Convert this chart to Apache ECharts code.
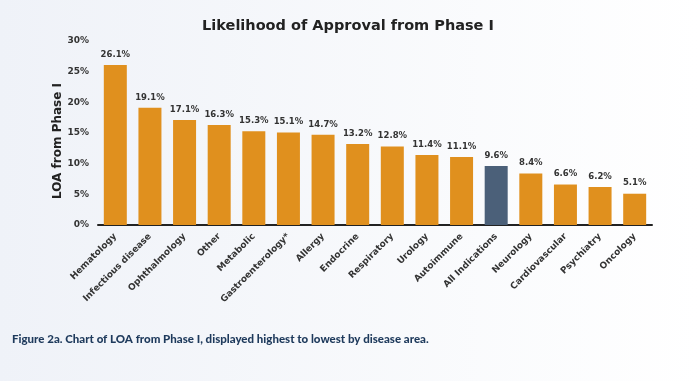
<!DOCTYPE html>
<html><head><meta charset="utf-8">
<script src="https://cdn.jsdelivr.net/npm/echarts@6/dist/echarts.min.js"></script>
<style>html,body{margin:0;padding:0;}#c{width:699px;height:381px;}</style>
</head><body><div id="c"></div>
<script>
const categories = ["Hematology","Infectious disease","Ophthalmology","Other","Metabolic","Gastroenterology*","Allergy","Endocrine","Respiratory","Urology","Autoimmune","All Indications","Neurology","Cardiovascular","Psychiatry","Oncology"];
const values = [26.1,19.1,17.1,16.3,15.3,15.1,14.7,13.2,12.8,11.4,11.1,9.6,8.4,6.6,6.2,5.1];
const highlight = "All Indications";
const yTicks = [0,5,10,15,20,25,30];

const chart = echarts.init(document.getElementById('c'));
chart.setOption({
  backgroundColor: {type:'linear',x:0,y:0,x2:1,y2:0,colorStops:[{offset:0,color:'#eff2f8'},{offset:1,color:'#ffffff'}]},
  title: {text:'Likelihood of Approval from Phase I', left:343, top:14, textAlign:'center',
    textStyle:{fontFamily:'DejaVu Sans', fontWeight:'bold', fontSize:14.5, color:'#222'}},
  graphic: [
    {type:'text', left:12, top:333, style:{text:'Figure 2a. Chart of LOA from Phase I, displayed highest to lowest by disease area.', font:'900 11.5px Lato', fill:'#1e3a5c'}},
    {type:'text', x:58, y:141, rotation:Math.PI/2, style:{text:'LOA from Phase I', font:'bold 12px "DejaVu Sans"', fill:'#222', textAlign:'center', textVerticalAlign:'middle'}}
  ],
  grid: {left:98, right:47, top:41, bottom:156},
  xAxis: {type:'category', data:categories,
    axisLine:{lineStyle:{color:'#222', width:2}}, axisTick:{show:false},
    axisLabel:{rotate:45, interval:0, fontFamily:'DejaVu Sans', fontWeight:'bold', fontSize:9, color:'#333', margin:10}},
  yAxis: {type:'value', min:0, max:30, interval:5,
    axisLine:{show:false}, axisTick:{show:false}, splitLine:{show:false},
    axisLabel:{formatter:v=>yTicks.includes(v)?v+'%':'', fontFamily:'DejaVu Sans', fontWeight:'bold', fontSize:9, color:'#333', margin:9}},
  series: [{type:'bar', barWidth:23,
    data: values.map((v,i)=>({value:v, itemStyle:{color: categories[i]===highlight?'#4b6079':'#e0901e'}})),
    label:{show:true, position:'top', formatter:p=>p.value.toFixed(1)+'%', fontFamily:'DejaVu Sans', fontWeight:'bold', fontSize:8.5, color:'#333', distance:6}}]
});
</script></body></html>
